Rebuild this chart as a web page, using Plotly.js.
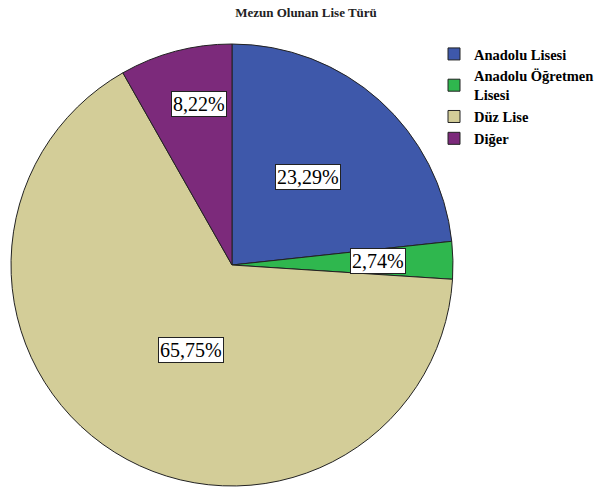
<!DOCTYPE html>
<html>
<head>
<meta charset="utf-8">
<script src="https://cdn.plot.ly/plotly-3.0.1.min.js"></script>
<style>html,body{margin:0;padding:0;background:#fff;}#chart{width:596px;height:490px;}</style>
</head>
<body>
<div id="chart"></div>
<script>
// Data
const categories = ["Anadolu Lisesi", "Anadolu Öğretmen<br>Lisesi", "Düz Lise", "Diğer"];
const percentages = [23.29, 2.74, 65.75, 8.22];
const chartTitle = "Mezun Olunan Lise Türü";

// Style
const colors = ["#3E58AA", "#2FB74E", "#D3CD98", "#7C2A7B"];
const W = 596, H = 490;
const cx = 232, cy = 265, R = 221;           // pixel geometry of the pie
const labelRadius = [0.525, 0.66, 0.427, 0.745]; // fraction of radius for label boxes
const labelAngleShift = [1.3, 0.2, 6.4, -3.4];  // degrees
const serif = "Times New Roman";

const domX = [(cx - R) / W, (cx + R) / W];
const domY = [(H - cy - R) / H, (H - cy + R) / H];

const total = percentages.reduce((a, b) => a + b, 0);
const annotations = [];
let cum = 0;
percentages.forEach((v, i) => {
  const mid = 90 - (cum + v / 2) / total * 360 + labelAngleShift[i];
  cum += v;
  const a = mid * Math.PI / 180;
  const px = cx + labelRadius[i] * R * Math.cos(a);
  const py = (H - cy) + labelRadius[i] * R * Math.sin(a);
  annotations.push({
    x: px / W, y: py / H, xref: "paper", yref: "paper",
    xanchor: "center", yanchor: "middle",
    text: v.toFixed(2).replace(".", ",") + "%",
    showarrow: false,
    font: {family: serif, size: 20, color: "#000"},
    bgcolor: "#ffffff", bordercolor: "#222", borderwidth: 1, borderpad: 1
  });
});

const trace = {
  type: "pie",
  labels: categories,
  values: percentages,
  sort: false,
  direction: "clockwise",
  rotation: 0,
  textinfo: "none",
  hoverinfo: "label+percent",
  marker: {colors: colors, line: {color: "#222", width: 1}},
  domain: {x: domX, y: domY}
};

const layout = {
  width: W, height: H,
  margin: {l: 0, r: 0, t: 0, b: 0, autoexpand: false},
  paper_bgcolor: "#fff",
  title: {text: "<b>" + chartTitle + "</b>", x: 306 / W, xanchor: "center", y: 1 - 12 / H, yanchor: "middle",
          font: {family: serif, size: 13, color: "#222"}},
  showlegend: true,
  legend: {x: 434 / W, xanchor: "left", y: 1 - 38 / H, yanchor: "top",
           font: {family: serif, size: 14.5, color: "#000", weight: "bold"},
           itemwidth: 30, tracegroupgap: 0, bgcolor: "rgba(0,0,0,0)"},
  annotations: annotations
};

Plotly.newPlot("chart", [trace], layout, {displayModeBar: false, staticPlot: true});
</script>
</body>
</html>
